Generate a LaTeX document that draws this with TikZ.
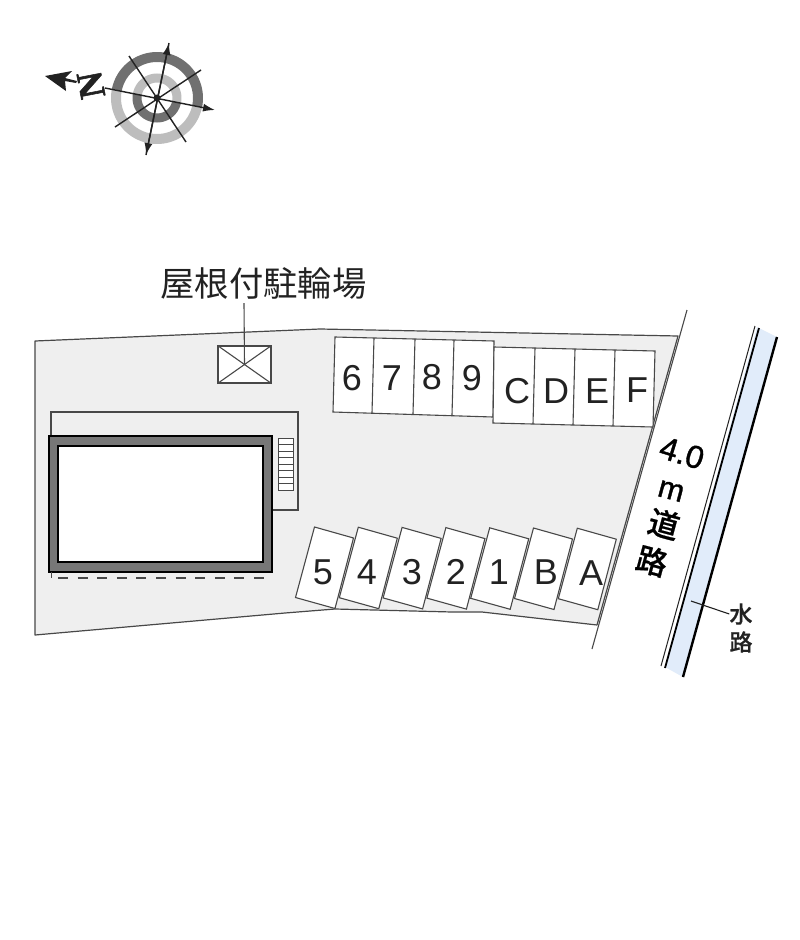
\documentclass[tikz,border=0pt]{standalone}
\usepackage{fontspec}
\setmainfont{Liberation Sans}
\newfontfamily\cjkfont{Noto Sans CJK JP}
\newfontfamily\cjkmedium[FakeBold=0.6]{Noto Sans CJK JP Medium}
\newfontfamily\latinfat[FakeBold=1.2]{Liberation Sans}
\newfontfamily\nfont[FakeBold=1.5]{Liberation Serif Bold}
\usetikzlibrary{arrows.meta}
\definecolor{lotfill}{HTML}{EFEFEF}
\definecolor{linegray}{HTML}{484848}
\definecolor{wallgray}{HTML}{777777}
\definecolor{ringdark}{HTML}{707070}
\definecolor{ringlight}{HTML}{BDBDBD}
\definecolor{waterblue}{HTML}{E1ECFA}
\definecolor{inkblack}{HTML}{222222}
\tikzset{
  lot/.style={draw=linegray,fill=lotfill,line width=1.2pt,line join=round},
  thinline/.style={draw=linegray,line width=1.1pt},
  stall/.style={draw=linegray,fill=white,line width=1.1pt,line join=miter},
  stalltext/.style={font=\fontsize{36}{36}\selectfont,text=inkblack,inner sep=0pt},
  roadtext/.style={font=\cjkmedium\fontsize{31}{31}\selectfont,text=black,inner sep=0pt,rotate=-15},
  smalltext/.style={font=\cjkmedium\fontsize{23}{23}\selectfont,text=inkblack,inner sep=0pt},
  compassline/.style={draw=inkblack,line width=1.4pt},
  compassarrow/.style={draw=inkblack,line width=1.4pt,-{Latex[length=12pt,width=8pt]}},
  ringouter/.style={line width=10pt},
  ringinner/.style={line width=9pt},
}
\begin{document}
\begin{tikzpicture}[x=1pt,y=-1pt]
\useasboundingbox (0,0) rectangle (800,940);
\fill[white] (0,0) rectangle (800,940);
% compass
\draw[ringouter,ringlight] plot[domain=11.5:191.5,samples=60] ({157+41*cos(\x)},{98+41*sin(\x)});
\draw[ringouter,ringdark] plot[domain=191.5:371.5,samples=60] ({157+41*cos(\x)},{98+41*sin(\x)});
\draw[ringinner,ringlight] plot[domain=191.5:371.5,samples=40] ({157+20*cos(\x)},{98+20*sin(\x)});
\draw[ringinner,ringdark] plot[domain=11.5:191.5,samples=40] ({157+20*cos(\x)},{98+20*sin(\x)});
\coordinate (cw) at (105,88);
\coordinate (ce) at (215,110);
\coordinate (cn) at (169,43);
\coordinate (cs) at (146,155);
\draw[compassarrow] (cw) -- (ce);
\draw[compassarrow] (cs) -- (cn);
\draw[compassarrow] (cn) -- (cs);
\draw[compassline] (129,56) -- (186,142);
\draw[compassline] (201,70) -- (115,127);
\fill[inkblack] (157,98) circle (3.5pt);
\fill[inkblack] (45,76) -- (72,71) -- (65,78) -- (77,81) -- (76,83) -- (65,81) -- (66,91) -- cycle;
\node[font=\nfont\fontsize{37}{37}\selectfont,text=inkblack,inner sep=0pt,rotate=101] (north) at (91,85) {N};
% lot
\path[lot] (35,341) -- (320,329) -- (678,336) -- (597,625) -- (482,612) -- (452,612) -- (335,609) -- (285,613) -- (35,635) -- cycle;
% road edge
\coordinate (edgeN) at (687,310);
\coordinate (edgeS) at (592,649);
\draw[thinline] (edgeN) -- (edgeS);
% balcony and building
\path[thinline,fill=lotfill] (51,436) -- (51,412) -- (298,412) -- (298,510) -- (272,510);
\draw[draw=black,fill=wallgray,line width=2pt] (49,436) rectangle (272,572);
\draw[draw=black,fill=white,line width=2pt] (58,446) rectangle (263,562);
% stairs
\draw[draw=linegray,fill=white,line width=1pt] (278,438) rectangle (293,490);
\foreach \y in {444.5,451,457.5,464,470.5,477,483.5}{\draw[linegray,line width=.9pt] (278,\y) -- (293,\y);}
% dashes
\draw[draw=linegray,line width=1.2pt,dash pattern=on 10pt off 9.6pt] (58,578) -- (268,578);
\draw[draw=linegray,line width=1pt] (51,572) -- (51,578);
% bicycle shelter
\node[draw=linegray,fill=white,line width=1.1pt,minimum width=53pt,minimum height=37pt,inner sep=0pt] (bike) at (244.5,364.5) {};
\draw[thinline] (bike.north west) -- (bike.south east);
\draw[thinline] (bike.north east) -- (bike.south west);
\node[font=\cjkfont\fontsize{34.3}{34.3}\selectfont,text=inkblack,inner sep=0pt] (roof) at (263.5,283) {屋根付駐輪場};
\draw[thinline] (244,303) -- (bike.center);
% top stalls
\path[stall] (335,337) -- (494,341) -- (493,417) -- (333,412) -- cycle;
\draw[thinline] (374,338) -- (372,413);
\draw[thinline] (415,339) -- (413,414);
\draw[thinline] (454,340) -- (452,415);
\path[stall] (494,347) -- (655,351) -- (653,427) -- (493,423) -- cycle;
\draw[thinline] (535,348) -- (533,424);
\draw[thinline] (575,349) -- (573,425);
\draw[thinline] (615,350) -- (613,426);
\node[stalltext] (s6) at (352,378) {6};
\node[stalltext] (s7) at (392,378) {7};
\node[stalltext] (s8) at (432,377) {8};
\node[stalltext] (s9) at (472,378) {9};
\node[stalltext] (sC) at (517,391) {C};
\node[stalltext] (sD) at (556,391) {D};
\node[stalltext] (sE) at (597,391) {E};
\node[stalltext] (sF) at (637,390) {F};
% bottom stalls
\foreach \i in {0,...,6}{
  \path[stall,shift={(314.5+43.8*\i,527+.2*\i)}] (0,0) -- (39,11) -- (20.5,81.5) -- (-19,70.5) -- cycle;
}
\node[stalltext] (s5) at (323,572) {5};
\node[stalltext] (s4) at (367,572) {4};
\node[stalltext] (s3) at (412,572) {3};
\node[stalltext] (s2) at (456,572) {2};
\node[stalltext] (s1) at (499,572) {1};
\node[stalltext] (sB) at (546,572) {B};
\node[stalltext] (sA) at (591,573) {A};
% road label
\node[font=\latinfat\fontsize{32}{32}\selectfont,text=black,inner sep=0pt,rotate=-17] (width) at (682,453) {4.0};
\node[font=\latinfat\fontsize{31}{31}\selectfont,text=black,inner sep=0pt,rotate=-15] (unit) at (671,491) {m};
\node[roadtext] (road1) at (664,524) {道};
\node[roadtext] (road2) at (652,561) {路};
% water channel
\fill[waterblue] (757,327) -- (777,337) -- (683,677) -- (665,667) -- cycle;
\draw[draw=inkblack,line width=1pt] (755,326) -- (661,666);
\draw[draw=black,line width=1.8pt] (759,328) -- (665,668);
\draw[draw=black,line width=2.4pt] (777,337) -- (683,677);
\node[smalltext] (water1) at (741,614) {水};
\node[smalltext] (water2) at (741,642) {路};
\coordinate (waterpoint) at (691,601);
\draw[draw=inkblack,line width=1.1pt] (waterpoint) -- (water1.west);
\end{tikzpicture}
\end{document}
